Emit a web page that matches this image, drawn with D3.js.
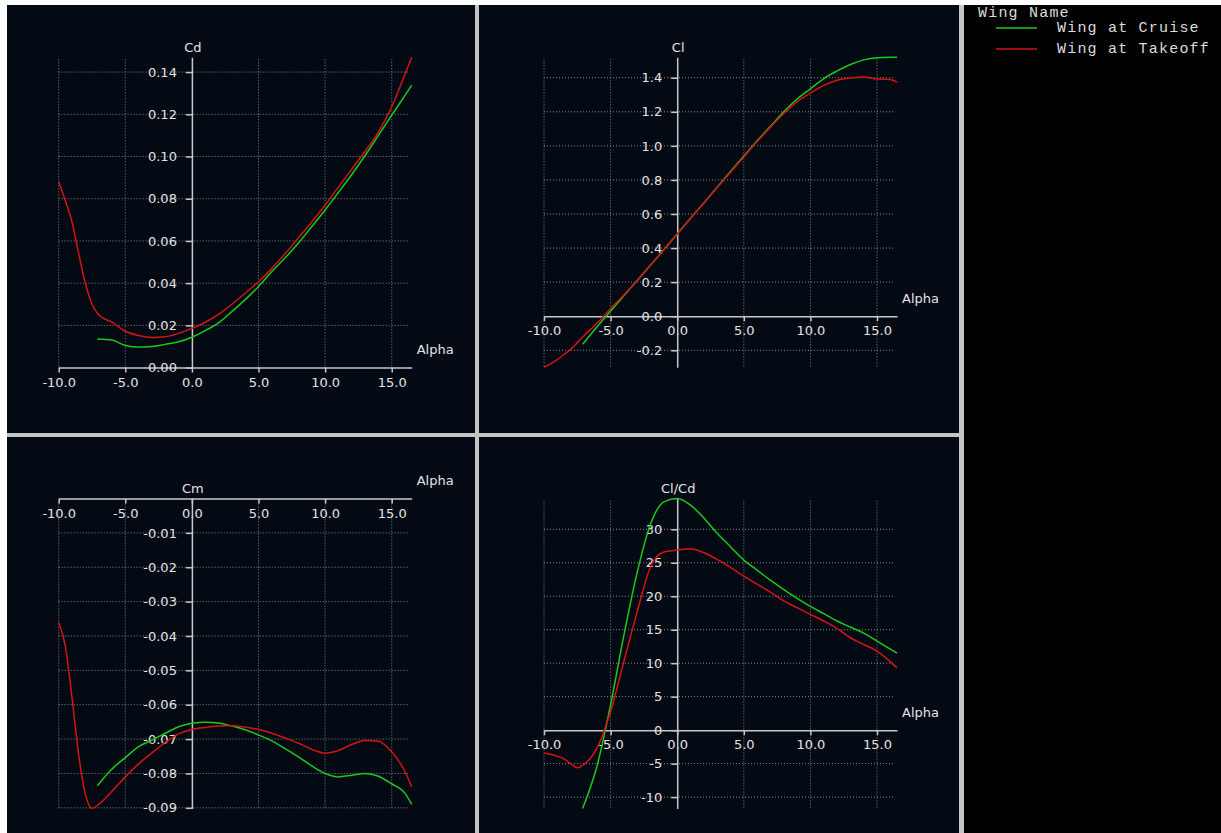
<!DOCTYPE html>
<html>
<head>
<meta charset="utf-8">
<script src="https://cdn.jsdelivr.net/npm/d3@7/dist/d3.min.js"></script>
<style>
  html, body { margin: 0; padding: 0; background: #ffffff; }
  svg { display: block; }
  .axis text, .lbl { font-family: "DejaVu Sans", sans-serif; font-size: 13px; fill: #e4e4e4; }
  .legend text { font-family: "Liberation Mono", "Courier New", monospace; font-size: 15px; fill: #dcdcdc; letter-spacing: 1.2px; }
</style>
</head>
<body>
<svg id="chart" width="1221" height="833"></svg>
<script>
// Angle of attack samples (deg) for each wing polar
const cruiseAlpha  = [-7.1, -6, -5, -4, -3, -2, -1, 0, 1, 2, 3, 4, 5, 6, 7, 8, 9, 10, 11, 12, 13, 14, 15, 16, 16.5];
const takeoffAlpha = [-10, -9.5, -9, -8.5, -8, -7.5, -7, -6, -5, -4, -3, -2, -1, 0, 1, 2, 3, 4, 5, 6, 7, 8, 9, 10, 11, 12, 13, 14, 15, 16, 16.5];

// Drag coefficient
const cruiseCd  = [0.0136, 0.0131, 0.0105, 0.0097, 0.0100, 0.0110, 0.0122, 0.0144, 0.0175, 0.0212, 0.0265, 0.0322, 0.0384, 0.0455, 0.0520, 0.0590, 0.0668, 0.0747, 0.0830, 0.0915, 0.1005, 0.1100, 0.1196, 0.1290, 0.1338];
const takeoffCd = [0.088, 0.079, 0.069, 0.054, 0.040, 0.030, 0.025, 0.0215, 0.0172, 0.0152, 0.0143, 0.0146, 0.0162, 0.0186, 0.0215, 0.0252, 0.0300, 0.0352, 0.0407, 0.0470, 0.0540, 0.0615, 0.0690, 0.0770, 0.0855, 0.0940, 0.1025, 0.1115, 0.1236, 0.1390, 0.1470];

// Lift coefficient
const cruiseCl  = [-0.165, -0.06, 0.03, 0.12, 0.21, 0.30, 0.39, 0.483, 0.575, 0.665, 0.757, 0.85, 0.94, 1.03, 1.115, 1.20, 1.275, 1.335, 1.395, 1.44, 1.478, 1.505, 1.518, 1.52, 1.52];
const takeoffCl = [-0.30, -0.28, -0.255, -0.225, -0.195, -0.155, -0.115, -0.04, 0.045, 0.125, 0.21, 0.30, 0.39, 0.483, 0.575, 0.665, 0.755, 0.845, 0.935, 1.025, 1.11, 1.19, 1.26, 1.31, 1.355, 1.385, 1.398, 1.405, 1.392, 1.39, 1.374];

// Pitching moment coefficient
const cruiseCm  = [-0.0836, -0.0787, -0.0754, -0.0722, -0.0703, -0.0683, -0.0664, -0.0654, -0.0651, -0.0653, -0.0662, -0.0673, -0.0688, -0.0705, -0.0728, -0.0752, -0.0778, -0.0800, -0.0810, -0.0805, -0.0800, -0.0808, -0.0830, -0.0858, -0.0890];
const takeoffCm = [-0.0361, -0.043, -0.058, -0.0746, -0.086, -0.0902, -0.089, -0.0852, -0.081, -0.0772, -0.074, -0.071, -0.0685, -0.0672, -0.0666, -0.0662, -0.0661, -0.0665, -0.0672, -0.0683, -0.0697, -0.0712, -0.073, -0.0741, -0.0733, -0.0716, -0.0704, -0.0706, -0.0737, -0.0795, -0.0839];

// Lift-to-drag ratio
const cruiseClCd  = [-11.7, -5.2, 3.8, 14.2, 23.6, 30.8, 34.1, 34.6, 33.6, 31.7, 29.4, 27.4, 25.4, 23.9, 22.4, 21.0, 19.7, 18.5, 17.4, 16.3, 15.4, 14.5, 13.3, 12.1, 11.5];
const takeoffClCd = [-3.4, -3.6, -3.9, -4.3, -5.0, -5.6, -5.1, -2.6, 2.8, 10.3, 17.7, 24.4, 26.6, 26.9, 27.1, 26.5, 25.5, 24.3, 23.0, 21.8, 20.6, 19.3, 18.3, 17.3, 16.3, 15.2, 13.8, 12.8, 11.8, 10.2, 9.3];

// Axis ticks
const alphaTicks = [-10, -5, 0, 5, 10, 15];
const cdTicks   = [0, 0.02, 0.04, 0.06, 0.08, 0.10, 0.12, 0.14];
const clTicks   = [-0.2, 0, 0.2, 0.4, 0.6, 0.8, 1.0, 1.2, 1.4];
const cmTicks   = [-0.01, -0.02, -0.03, -0.04, -0.05, -0.06, -0.07, -0.08, -0.09];
const clcdTicks = [-10, -5, 0, 5, 10, 15, 20, 25, 30];

const wingNames  = ["Wing at Cruise", "Wing at Takeoff"];
const wingColors = ["#1cc81c", "#d41414"];

const svg = d3.select("#chart");

// Frame: light grey separators, dark graph panes, black legend pane
svg.append("rect").attr("x", 7).attr("y", 5).attr("width", 1214).attr("height", 828).attr("fill", "#c4c4c4");
const panes = [[7, 5, 468, 428], [479, 5, 480, 428], [7, 437, 468, 396], [479, 437, 480, 396]];
svg.selectAll("rect.pane").data(panes).enter().append("rect")
  .attr("class", "pane")
  .attr("x", d => d[0]).attr("y", d => d[1]).attr("width", d => d[2]).attr("height", d => d[3])
  .attr("fill", "#030a14");
svg.append("rect").attr("x", 964).attr("y", 5).attr("width", 257).attr("height", 828).attr("fill", "#000000");

const graphs = [
  { title: "Cd",    series: [cruiseCd, takeoffCd],     ticks: cdTicks,   fmt: d => d.toFixed(2), left: 58.7, top: 57.3,  bottom: 367.6 },
  { title: "Cl",    series: [cruiseCl, takeoffCl],     ticks: clTicks,   fmt: d => d.toFixed(1), left: 544,  top: 57.3,  bottom: 367.3 },
  { title: "Cm",    series: [cruiseCm, takeoffCm],     ticks: cmTicks,   fmt: d => d.toFixed(2), left: 58.7, top: 498.5, bottom: 808.5 },
  { title: "Cl/Cd", series: [cruiseClCd, takeoffClCd], ticks: clcdTicks, fmt: d => String(d),   left: 544,  top: 498.5, bottom: 808.5 }
];
const alphaSets = [cruiseAlpha, takeoffAlpha];
const alphaDomain = [-10, 16.5];
const plotWidth = 353;

graphs.forEach(g => {
  const x = d3.scaleLinear().domain(alphaDomain).range([g.left, g.left + plotWidth]);
  const ext = d3.extent(g.series.flat().concat([0]));
  const y = d3.scaleLinear().domain(ext).range([g.bottom, g.top]);
  const root = svg.append("g");

  // dotted grid
  const grid = root.append("g").attr("stroke", "#8a8a8a").attr("stroke-width", 1).attr("stroke-dasharray", "1,2");
  grid.selectAll("line.v").data(alphaTicks.filter(t => t !== 0)).enter().append("line")
    .attr("x1", d => x(d)).attr("x2", d => x(d))
    .attr("y1", g.top + 2).attr("y2", g.bottom);
  grid.selectAll("line.h").data(g.ticks.filter(t => t !== 0)).enter().append("line")
    .attr("x1", x(alphaDomain[0])).attr("x2", x(alphaDomain[1]) - 2)
    .attr("y1", d => y(d)).attr("y2", d => y(d));

  // axes
  const xAxis = root.append("g").attr("class", "axis")
    .attr("transform", `translate(0,${y(0)})`)
    .call(d3.axisBottom(x).tickValues(alphaTicks).tickFormat(d => d.toFixed(1)).tickSize(5).tickSizeOuter(0).tickPadding(5));
  const yAxis = root.append("g").attr("class", "axis")
    .attr("transform", `translate(${x(0)},0)`)
    .call(d3.axisLeft(y).tickValues(g.ticks).tickFormat(g.fmt).tickSize(6).tickSizeOuter(0).tickPadding(9));
  [xAxis, yAxis].forEach(a => {
    a.select(".domain").attr("stroke", "#c8c8c8").attr("stroke-width", 1.5);
    a.selectAll(".tick line").attr("stroke", "#c8c8c8").attr("stroke-width", 1.5);
    a.selectAll("text").attr("fill", "#e4e4e4").style("font-size", "13px").style("font-family", "DejaVu Sans, sans-serif");
  });

  // titles
  root.append("text").attr("class", "lbl").attr("x", x(0) + 1).attr("y", g.top - 10)
    .attr("text-anchor", "middle").attr("dy", "0.35em").text(g.title);
  root.append("text").attr("class", "lbl").attr("x", x(alphaDomain[1]) + 5).attr("y", y(0) - 18)
    .attr("dy", "0.35em").text("Alpha");

  // polar curves
  const line = d3.line().curve(d3.curveMonotoneX);
  g.series.forEach((vals, i) => {
    const pts = vals.map((v, k) => [x(alphaSets[i][k]), y(v)]);
    root.append("path").attr("d", line(pts))
      .attr("fill", "none").attr("stroke", wingColors[i]).attr("stroke-width", 1.5);
  });
});

// legend
const lg = svg.append("g").attr("class", "legend");
lg.append("text").attr("x", 978).attr("y", 17).text("Wing Name");
wingNames.forEach((name, i) => {
  const yy = 28 + i * 21;
  lg.append("line").attr("x1", 996).attr("x2", 1037).attr("y1", yy).attr("y2", yy)
    .attr("stroke", wingColors[i]).attr("stroke-width", 1.5);
  lg.append("text").attr("x", 1057).attr("y", yy + 4).text(name);
});
</script>
</body>
</html>
